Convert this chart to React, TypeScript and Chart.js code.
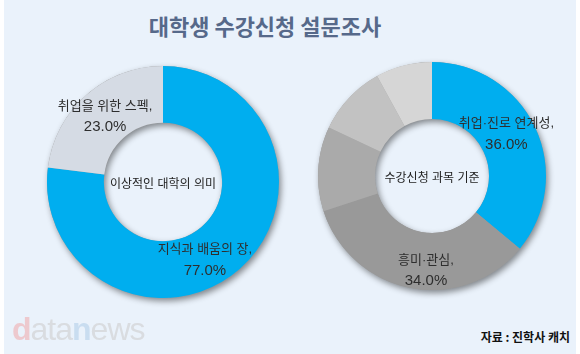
import React, { useEffect, useRef } from "react";
import { Chart, registerables } from "chart.js";

Chart.register(...registerables);

const TITLE = "대학생 수강신청 설문조사";
const SOURCE = "자료 : 진학사 캐치";

const LEFT_CENTER_LABEL = "이상적인 대학의 의미";
const LEFT_CATEGORIES = ["지식과 배움의 장", "취업을 위한 스펙"];
const LEFT_VALUES = [77.0, 23.0];
const LEFT_COLORS = ["#00AEEF", "#D5DBE4"];
const LEFT_SHOW_LABEL = [true, true];

const RIGHT_CENTER_LABEL = "수강신청 과목 기준";
const RIGHT_CATEGORIES = ["취업·진로 연계성", "흥미·관심", "기타 1", "기타 2", "기타 3"];
const RIGHT_VALUES = [36.0, 34.0, 12.0, 10.0, 8.0];
const RIGHT_COLORS = ["#00AEEF", "#999999", "#AAAAAA", "#C2C2C2", "#D6D6D6"];
const RIGHT_SHOW_LABEL = [true, true, false, false, false];

const FONT = "'Noto Sans CJK KR', 'Noto Sans', sans-serif";
const LABEL_FONT = "'Liberation Sans', 'Noto Sans CJK KR', sans-serif";

const ringShadow = {
  id: "ringShadow",
  beforeDatasetsDraw(chart: any) {
    const meta = chart.getDatasetMeta(0);
    const arc = meta.data[0];
    if (!arc) return;
    const { x, y, outerRadius, innerRadius } = arc.getProps(
      ["x", "y", "outerRadius", "innerRadius"],
      true
    );
    const ctx = chart.ctx;
    ctx.save();
    ctx.shadowColor = "rgba(0,0,0,0.45)";
    ctx.shadowBlur = 6;
    ctx.shadowOffsetX = 2;
    ctx.shadowOffsetY = 3;
    ctx.beginPath();
    ctx.arc(x, y, outerRadius, 0, Math.PI * 2);
    ctx.arc(x, y, innerRadius, 0, Math.PI * 2, true);
    ctx.fillStyle = "#999999";
    ctx.fill();
    ctx.restore();
  },
};

const labelsPlugin = {
  id: "donutLabels",
  afterDatasetsDraw(chart: any, _args: any, opts: any) {
    const ctx = chart.ctx;
    const meta = chart.getDatasetMeta(0);
    const ds = chart.data.datasets[0];
    const cats = chart.data.labels as string[];
    ctx.save();
    ctx.textAlign = "center";
    ctx.textBaseline = "middle";
    ctx.fillStyle = "#2E2E2E";
    meta.data.forEach((arc: any, i: number) => {
      if (!opts.show[i]) return;
      const p = arc.tooltipPosition();
      const dx = (opts.dx && opts.dx[i]) || 0;
      const dy = (opts.dy && opts.dy[i]) || 0;
      ctx.font = `13px ${LABEL_FONT}`;
      ctx.fillText(`${cats[i]},`, p.x + dx, p.y + dy - 10);
      ctx.font = `15px ${LABEL_FONT}`;
      ctx.fillText(`${Number(ds.data[i]).toFixed(1)}%`, p.x + dx, p.y + dy + 11);
    });
    const a0 = meta.data[0];
    if (a0) {
      ctx.font = `12px ${LABEL_FONT}`;
      ctx.fillStyle = "#222222";
      ctx.fillText(opts.center, a0.x, a0.y + 3);
    }
    ctx.restore();
  },
};

function Donut(props: {
  categories: string[];
  values: number[];
  colors: string[];
  show: boolean[];
  center: string;
  size: number;
  pad: number;
  cutout: string;
  dx?: number[];
  dy?: number[];
}) {
  const ref = useRef<HTMLCanvasElement | null>(null);
  useEffect(() => {
    if (!ref.current) return;
    const chart = new Chart(ref.current, {
      type: "doughnut",
      data: {
        labels: props.categories,
        datasets: [
          {
            data: props.values,
            backgroundColor: props.colors,
            borderWidth: 0,
          },
        ],
      },
      options: {
        responsive: false,
        animation: false,
        cutout: props.cutout,
        layout: { padding: props.pad },
        plugins: {
          legend: { display: false },
          tooltip: { enabled: false },
          donutLabels: {
            show: props.show,
            center: props.center,
            dx: props.dx,
            dy: props.dy,
          },
        } as any,
      },
      plugins: [ringShadow, labelsPlugin],
    });
    return () => chart.destroy();
  }, []);
  return <canvas ref={ref} width={props.size} height={props.size} />;
}

export default function App() {
  return (
    <div
      style={{
        position: "fixed",
        left: 0,
        top: 0,
        width: 580,
        height: 354,
        background: "#FFFFFF",
        overflow: "hidden",
        fontFamily: FONT,
      }}
    >
      <div
        style={{
          position: "absolute",
          left: 4,
          top: 0,
          width: 572,
          height: 354,
          background: "#EAF2FB",
        }}
      />
      <div
        style={{
          position: "absolute",
          left: 97,
          top: 9,
          width: 336,
          textAlign: "center",
          fontSize: 22,
          fontWeight: 700,
          color: "#56698A",
          lineHeight: "32px",
        }}
      >
        {TITLE}
      </div>
      <div style={{ position: "absolute", left: 33, top: 52 }}>
        <Donut
          categories={LEFT_CATEGORIES}
          values={LEFT_VALUES}
          colors={LEFT_COLORS}
          show={LEFT_SHOW_LABEL}
          center={LEFT_CENTER_LABEL}
          size={260}
          pad={14}
          cutout="51%"
          dx={[-16, 0]}
          dy={[12, 0]}
        />
      </div>
      <div style={{ position: "absolute", left: 302, top: 46 }}>
        <Donut
          categories={RIGHT_CATEGORIES}
          values={RIGHT_VALUES}
          colors={RIGHT_COLORS}
          show={RIGHT_SHOW_LABEL}
          center={RIGHT_CENTER_LABEL}
          size={260}
          pad={16}
          cutout="50%"
          dx={[-3, 10]}
          dy={[-6, 10]}
        />
      </div>
      <div
        style={{
          position: "absolute",
          left: 12,
          top: 310,
          fontFamily: "'Liberation Sans', Arial, sans-serif",
          fontSize: 32,
          letterSpacing: -1,
          lineHeight: "38px",
        }}
      >
        <span style={{ color: "#EDC9CE", fontWeight: 700 }}>d</span>
        <span style={{ color: "#D9DCE0" }}>ata</span>
        <span style={{ color: "#C9DDF0", fontWeight: 700 }}>n</span>
        <span style={{ color: "#D9DCE0" }}>ews</span>
      </div>
      <div
        style={{
          position: "absolute",
          right: 10,
          top: 328,
          fontSize: 12,
          fontWeight: 700,
          color: "#111111",
          lineHeight: "18px",
        }}
      >
        {SOURCE}
      </div>
    </div>
  );
}
